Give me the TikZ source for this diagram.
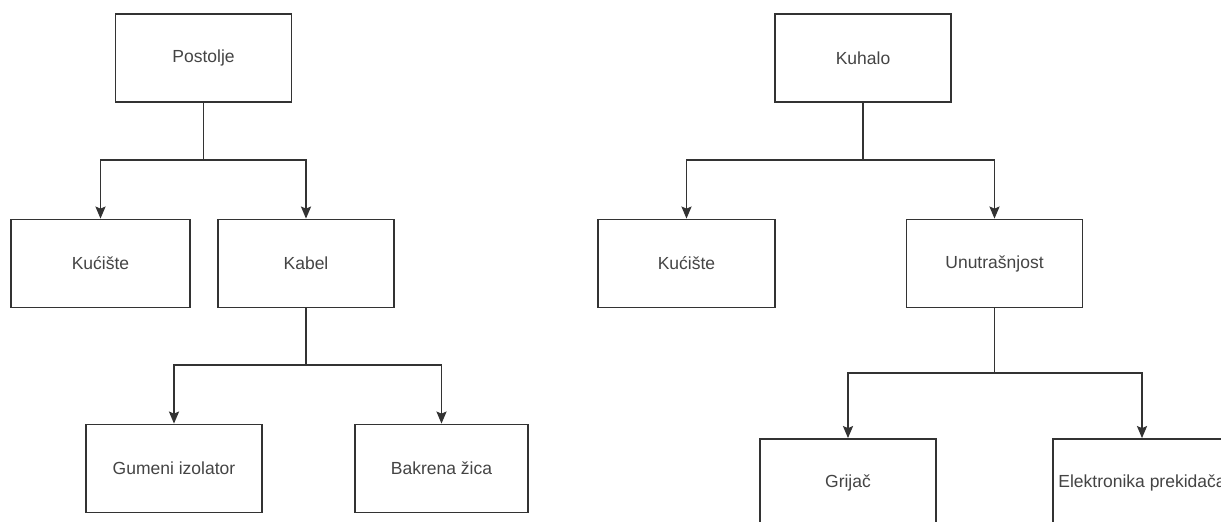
\documentclass[tikz,border=0pt]{standalone}
\usepackage{fontspec}
\setmainfont{Liberation Sans}
\usetikzlibrary{arrows.meta}
\definecolor{linec}{HTML}{333333}
\definecolor{textc}{HTML}{444444}
\begin{document}
\begin{tikzpicture}[x=1pt,y=-1pt,
  box/.style={draw=linec, line width=1.8pt, rectangle, minimum width=176pt, minimum height=88pt, inner sep=0pt,
    text=textc, font=\fontsize{17.5}{20}\selectfont},
  conn/.style={draw=linec, line width=1.8pt},
  arr/.style={conn, -{Stealth[length=12pt,width=10pt,inset=2pt]}}]
\useasboundingbox (0,0) rectangle (1221,522);
\clip (0,0) rectangle (1221,522);
\fill[white] (0,0) rectangle (1221,522);
% left tree
\node[box] (post) at (203.5,58) {Postolje};
\node[box, minimum width=179pt] (kucL) at (100.5,263.5) {Kućište};
\node[box] (kabel) at (306,263.5) {Kabel};
\node[box] (gum) at (174,468.5) {Gumeni izolator};
\node[box, minimum width=173pt] (bak) at (441.5,468.5) {Bakrena žica};
\coordinate (j1) at (203.5,160);
\coordinate (j2) at (306,365);
\draw[conn] (post.south) -- (j1);
\draw[arr] (j1) -| (kucL.north);
\draw[arr] (j1) -| (kabel.north);
\draw[conn] (kabel.south) -- (j2);
\draw[arr] (j2) -| (gum.north);
\draw[arr] (j2) -| (bak.north);
% right tree
\node[box] (kuh) at (863,58) {Kuhalo};
\node[box, minimum width=177pt] (kucR) at (686.5,263.5) {Kućište};
\node[box] (unu) at (994.5,263.5) {Unutrašnjost};
\node[box] (grij) at (848,483) {Grijač};
\node[box, minimum width=178pt] (elek) at (1142,483) {Elektronika prekidača};
\coordinate (j3) at (863,160);
\coordinate (j4) at (994.5,373);
\draw[conn] (kuh.south) -- (j3);
\draw[arr] (j3) -| (kucR.north);
\draw[arr] (j3) -| (unu.north);
\draw[conn] (unu.south) -- (j4);
\draw[arr] (j4) -| (grij.north);
\draw[arr] (j4) -| (elek.north);
\end{tikzpicture}
\end{document}
